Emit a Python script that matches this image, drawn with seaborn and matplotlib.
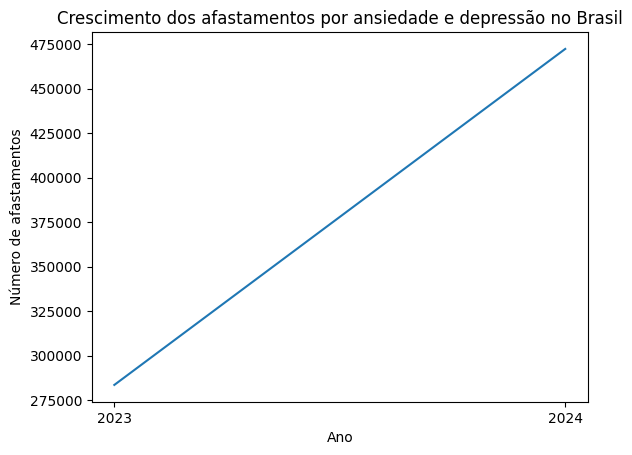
import matplotlib
matplotlib.use('Agg')
import matplotlib.pyplot as plt
import seaborn as sns
import pandas as pd

# afastamentos por ansiedade e depressão
anos = ['2023', '2024']
afastamentos = [283471, 472328]

df = pd.DataFrame({'Ano': anos, 'Número de afastamentos': afastamentos})

fig, ax = plt.subplots(figsize=(6.4, 4.8), dpi=100)
sns.lineplot(x='Ano', y='Número de afastamentos', data=df, ax=ax)
ax.set_title('Crescimento dos afastamentos por ansiedade e depressão no Brasil')

plt.savefig('out.png', dpi=100, bbox_inches='tight')
